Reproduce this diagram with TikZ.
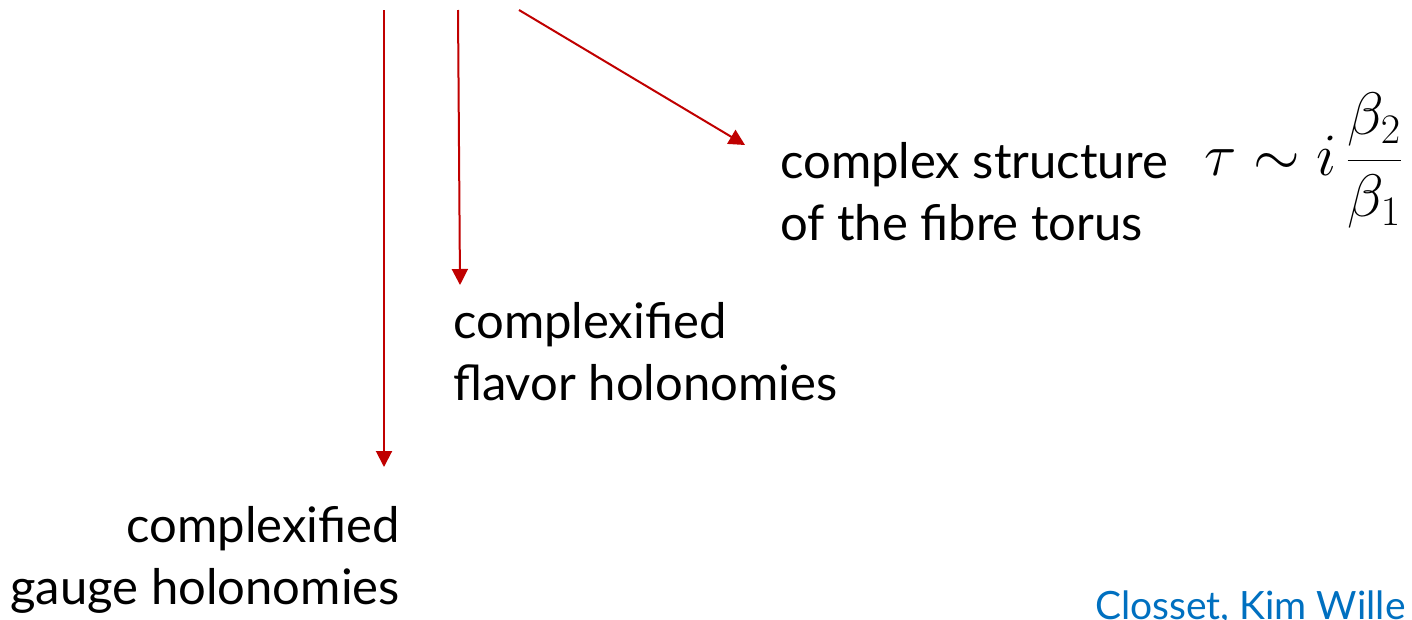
\RequirePackage{fix-cm}
\documentclass[tikz,border=0pt]{standalone}
\usepackage{fontspec}
\setmainfont{Lato}
\usetikzlibrary{arrows.meta}
\definecolor{arrred}{RGB}{192,0,0}
\definecolor{refblue}{RGB}{0,112,192}
\tikzset{
  arr/.style={draw=arrred, line width=2pt, -{Triangle[length=16pt,width=16pt]}},
  lbl/.style={inner sep=0pt, font=\fontsize{49}{62}\selectfont},
}
\begin{document}
\begin{tikzpicture}[x=1pt,y=-1pt]
\useasboundingbox (0,0) rectangle (1412,619);
\clip (0,0) rectangle (1412,619);
% start points
\coordinate (s1) at (384,10);
\coordinate (s2) at (458,10);
\coordinate (s3) at (519,10);
\coordinate (t1) at (384,467);
\coordinate (t2) at (460,285);
\coordinate (t3) at (745,145);
% labels (base anchor = baseline of last line)
\node[lbl, align=right, anchor=base east] (gauge) at (400,604) {complexified\\gauge holonomies};
\node[lbl, align=left, anchor=base west] (flavor) at (453,400) {complexified\\flavor holonomies};
\node[lbl, align=left, anchor=base west] (cs) at (780,240) {complex structure\\of the fibre torus};
\node[inner sep=0pt, anchor=base west, font=\fontsize{60}{70}\selectfont] (tau) at (1204,175) {$\displaystyle\tau\sim i\,\frac{\beta_2}{\beta_1}$};
\node[inner sep=0pt, anchor=base west, text=refblue, font=\fontsize{39}{46}\selectfont] (ref) at (1095,619) {Closset, Kim Wille};
% arrows
\draw[arr] (s1) -- (t1);
\draw[arr] (s2) -- (t2);
\draw[arr] (s3) -- (t3);
\end{tikzpicture}
\end{document}
